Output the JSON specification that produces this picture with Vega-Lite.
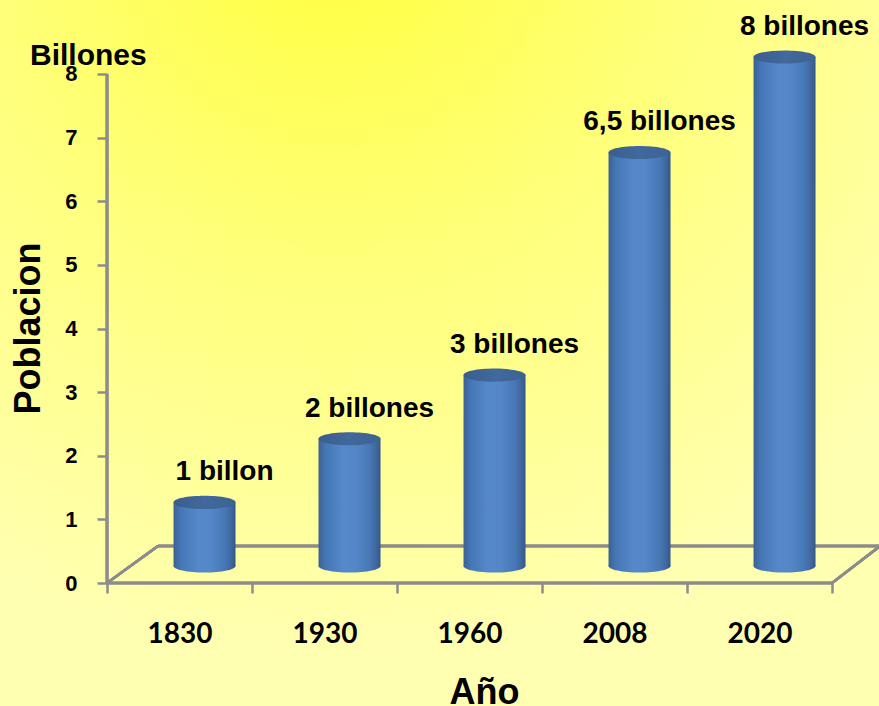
{
  "$schema": "https://vega.github.io/schema/vega-lite/v6.json",
  "width": 879,
  "height": 706,
  "padding": 0,
  "autosize": {"type": "none"},
  "background": "#FFFFA8",
  "config": {
    "view": {
      "stroke": null,
      "fill": {
        "gradient": "radial",
        "x1": 0.38, "y1": 0, "r1": 0,
        "x2": 0.38, "y2": 0, "r2": 0.85,
        "stops": [
          {"offset": 0, "color": "#FFFF3A"},
          {"offset": 0.45, "color": "#FFFF78"},
          {"offset": 1, "color": "#FFFFB2"}
        ]
      }
    },
    "font": "Liberation Sans"
  },
  "title": {
    "text": "Billones",
    "anchor": "start",
    "frame": "group",
    "orient": "top",
    "offset": -95,
    "dx": 30,
    "baseline": "alphabetic",
    "font": "Liberation Sans",
    "fontWeight": "bold",
    "fontSize": 30,
    "color": "black"
  },
  "data": {
    "values": [
      {"year": "1830", "value": 1, "label": "1 billon"},
      {"year": "1930", "value": 2, "label": "2 billones"},
      {"year": "1960", "value": 3, "label": "3 billones"},
      {"year": "2008", "value": 6.5, "label": "6,5 billones"},
      {"year": "2020", "value": 8, "label": "8 billones"}
    ]
  },
  "encoding": {
    "x": {
      "field": "year", "type": "nominal", "sort": null,
      "scale": {"type": "band", "domain": ["1830", "1930", "1960", "2008", "2020"], "paddingInner": 0, "paddingOuter": 0.531, "align": 0.695},
      "axis": {
        "offset": -123, "domain": false, "grid": false, "tickBand": "extent",
        "tickSize": 10, "tickColor": "#8C8C8C", "tickWidth": 2.5,
        "labelPadding": 27, "labelFont": "Lato", "labelFontWeight": "bold",
        "labelFontSize": 28, "labelColor": "black", "labelAngle": 0,
        "title": "Año", "titleFont": "Liberation Sans", "titleFontWeight": "bold",
        "titleFontSize": 36, "titleColor": "black", "titleX": 484, "titleY": 120,
        "titleBaseline": "alphabetic", "titleAlign": "center"
      }
    },
    "y": {
      "field": "value", "type": "quantitative",
      "scale": {"domain": [-1.933, 9.163], "nice": false, "zero": false},
      "axis": {
        "values": [0, 1, 2, 3, 4, 5, 6, 7, 8],
        "offset": -107, "domain": false, "grid": false,
        "tickSize": 10, "tickColor": "#8C8C8C", "tickWidth": 2.5,
        "labelPadding": 20, "labelFont": "Liberation Sans", "labelFontWeight": "bold",
        "labelFontSize": 22, "labelColor": "black", "labelOverlap": false,
        "title": "Poblacion", "titleFont": "Liberation Sans", "titleFontWeight": "bold",
        "titleFontSize": 36, "titleColor": "black", "titleX": -68, "titleY": 328,
        "titleBaseline": "alphabetic", "titleAngle": -90, "titleAlign": "center"
      }
    }
  },
  "layer": [
    {
      "mark": {"type": "rule", "color": "#8C8C8C", "strokeWidth": 2.5, "xOffset": -21.5, "x2Offset": 120.5, "yOffset": -37},
      "encoding": {
        "x": {"datum": "1830"},
        "x2": {"datum": "2020"},
        "y": {"datum": 0}
      }
    },
    {
      "mark": {"type": "rule", "color": "#8C8C8C", "strokeWidth": 2.5, "xOffset": -72.5, "x2Offset": -21.5, "y2Offset": -37},
      "encoding": {
        "x": {"datum": "1830"},
        "x2": {"datum": "1830"},
        "y": {"datum": 0},
        "y2": {"datum": 0}
      }
    },
    {
      "mark": {"type": "rule", "color": "#8C8C8C", "strokeWidth": 2.5, "xOffset": 72.5, "x2Offset": 120.5, "y2Offset": -37},
      "encoding": {
        "x": {"datum": "2020"},
        "x2": {"datum": "2020"},
        "y": {"datum": 0},
        "y2": {"datum": 0}
      }
    },
    {
      "mark": {"type": "rule", "color": "#8C8C8C", "strokeWidth": 2.5, "xOffset": -72.5, "x2Offset": 72.5},
      "encoding": {
        "x": {"datum": "1830"},
        "x2": {"datum": "2020"},
        "y": {"datum": 0}
      }
    },
    {
      "mark": {"type": "rule", "color": "#8C8C8C", "strokeWidth": 2.5, "xOffset": -72.5},
      "encoding": {
        "x": {"datum": "1830"},
        "y": {"datum": 0},
        "y2": {"datum": 8}
      }
    },
    {
      "mark": {
        "type": "point", "filled": true, "opacity": 1, "strokeWidth": 0, "size": 3844,
        "shape": "M-1,0A1,0.21,0,1,0,1,0A1,0.21,0,1,0,-1,0Z",
        "xOffset": 25, "yOffset": -17,
        "fill": {
          "gradient": "linear", "x1": 0, "y1": 0, "x2": 1, "y2": 0,
          "stops": [
            {"offset": 0, "color": "#3B6193"},
            {"offset": 0.12, "color": "#4677B5"},
            {"offset": 0.4, "color": "#5589CA"},
            {"offset": 0.6, "color": "#5487C7"},
            {"offset": 0.82, "color": "#4878B6"},
            {"offset": 0.93, "color": "#3F679E"},
            {"offset": 1, "color": "#355887"}
          ]
        }
      },
      "encoding": {"y": {"datum": 0}}
    },
    {
      "mark": {
        "type": "bar", "width": 62, "xOffset": 25, "yOffset": -17, "y2Offset": -17,
        "fill": {
          "gradient": "linear", "x1": 0, "y1": 0, "x2": 1, "y2": 0,
          "stops": [
            {"offset": 0, "color": "#3B6193"},
            {"offset": 0.12, "color": "#4677B5"},
            {"offset": 0.4, "color": "#5589CA"},
            {"offset": 0.6, "color": "#5487C7"},
            {"offset": 0.82, "color": "#4878B6"},
            {"offset": 0.93, "color": "#3F679E"},
            {"offset": 1, "color": "#355887"}
          ]
        }
      },
      "encoding": {"y2": {"datum": 0}}
    },
    {
      "mark": {
        "type": "point", "filled": true, "opacity": 1, "strokeWidth": 0, "size": 3844,
        "shape": "M-1,0A1,0.21,0,1,0,1,0A1,0.21,0,1,0,-1,0Z",
        "xOffset": 25, "yOffset": -17,
        "fill": {
          "gradient": "linear", "x1": 0, "y1": 0, "x2": 1, "y2": 0,
          "stops": [
            {"offset": 0, "color": "#3A5D8C"},
            {"offset": 0.5, "color": "#42689C"},
            {"offset": 1, "color": "#3D6394"}
          ]
        }
      },
      "encoding": {}
    },
    {
      "mark": {
        "type": "text", "xOffset": 45, "yOffset": -39, "align": "center", "baseline": "alphabetic",
        "font": "Liberation Sans", "fontWeight": "bold", "fontSize": 28, "color": "black"
      },
      "encoding": {"text": {"field": "label"}}
    }
  ]
}
